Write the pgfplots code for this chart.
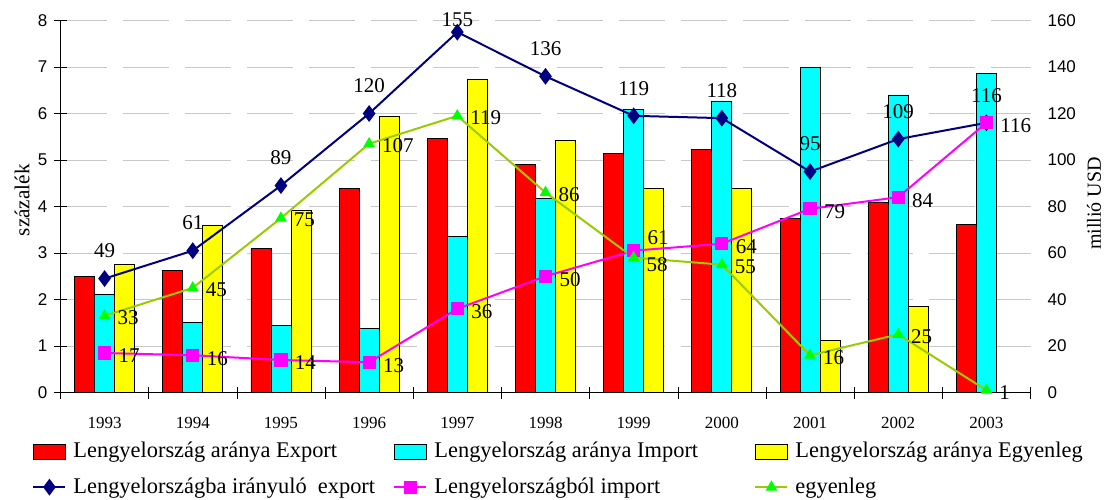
\documentclass[border=0pt]{standalone}
\usepackage{pgfplots}
\pgfplotsset{compat=1.18}
\usepackage{fontspec}
\setmainfont{Liberation Serif}
\newfontfamily\arial{Liberation Sans}
\definecolor{navyc}{HTML}{000080}
\definecolor{egyl}{HTML}{99CC00}
\definecolor{egym}{HTML}{00FF00}
\definecolor{gridc}{HTML}{C8C8C8}
\definecolor{cyanc}{HTML}{00FFFF}
\definecolor{magc}{HTML}{FF00FF}
\definecolor{redc}{HTML}{FF0000}
\definecolor{yelc}{HTML}{FFFF00}
\tikzset{dl/.style={font=\fontsize{10.5}{12}\selectfont,inner sep=1pt,text=black}}
\pgfplotsset{
  barleg/.style={legend image code/.code={\draw[##1] (0pt,-3.75pt) rectangle (16pt,3.75pt);}},
  lineleg/.style={legend image code/.code={\draw[mark repeat=2,mark phase=2,##1] plot coordinates {(0pt,0pt) (8pt,0pt) (16pt,0pt)};}},
  common/.style={width=485pt,height=186pt,scale only axis,xmin=-0.5,xmax=10.5,
    at={(0pt,0pt)},anchor=south west,
    /pgf/number format/assume math mode=true,
    yticklabel style={font=\arial\fontsize{8.5}{10}\selectfont},
    every axis y label/.style={rotate=90,anchor=center},
  },
}
\begin{document}
\begin{tikzpicture}
\useasboundingbox (-30.25pt,-53.25pt) rectangle (521.75pt,196.25pt);
\begin{axis}[common,
  ybar=0pt, bar width=10pt,
  ymin=0,ymax=8,ytick={0,...,8},
  axis y line*=left, axis x line*=bottom,
  xtick={-0.5,0.5,...,10.5}, x tick label as interval,
  xticklabels={1993,1994,1995,1996,1997,1998,1999,2000,2001,2002,2003},
  xticklabel style={font=\fontsize{8.5}{10}\selectfont,yshift=-6pt},
  tick align=center, major tick length=6pt,
  ymajorgrids, major grid style={gridc,line width=0.5pt,dash pattern=on 23pt off 8pt},
  ylabel={százalék},
  every axis y label/.append style={font=\fontsize{10.6}{12}\selectfont,at={(axis description cs:-0.0397,0.517)}},
  axis line style={black}, tick style={black},
]
\addplot[fill=redc,draw=black,line width=0.4pt] coordinates {(0,2.50) (1,2.62) (2,3.09) (3,4.38) (4,5.46) (5,4.90) (6,5.14) (7,5.23) (8,3.75) (9,4.09) (10,3.62)};
\addplot[fill=cyanc,draw=black,line width=0.4pt] coordinates {(0,2.10) (1,1.50) (2,1.44) (3,1.37) (4,3.35) (5,4.17) (6,6.09) (7,6.27) (8,7.00) (9,6.40) (10,6.87)};
\addplot[fill=yelc,draw=black,line width=0.4pt] coordinates {(0,2.76) (1,3.59) (2,3.91) (3,5.94) (4,6.73) (5,5.43) (6,4.39) (7,4.39) (8,1.12) (9,1.86)};
\end{axis}
\begin{axis}[common,
  ymin=0,ymax=160,ytick={0,20,...,160},
  axis y line*=right, axis x line=none,
  y axis line style={draw=none}, ytick style={draw=none},
  yticklabel style={xshift=5pt},
  ylabel={millió USD},
  every axis y label/.append style={font=\fontsize{10}{12}\selectfont,at={(axis description cs:1.0655,0.508)}},
  clip=false,
  legend columns=3, legend cell align=left,
  legend style={draw=none,fill=none,at={(-0.0355,-0.122)},anchor=north west,
    font=\fontsize{11.2}{13}\selectfont,row sep=8.5pt,
    nodes={inner sep=0pt},
    /tikz/every odd column/.append style={column sep=3.5pt},
    /tikz/every even column/.append style={column sep=2pt}},
  point meta=explicit symbolic, nodes near coords,
]
\addlegendimage{barleg,fill=redc,draw=black}
\addlegendentry{\makebox[158pt][l]{Lengyelország aránya Export}}
\addlegendimage{barleg,fill=cyanc,draw=black}
\addlegendentry{\makebox[158pt][l]{Lengyelország aránya Import}}
\addlegendimage{barleg,fill=yelc,draw=black}
\addlegendentry{\makebox[158pt][l]{Lengyelország aránya Egyenleg}}
\addplot[lineleg,navyc,line width=1pt,mark=diamond*,mark size=3.4pt,mark options={fill=navyc,draw=navyc},
  every node near coord/.append style={dl,anchor=south,yshift=8.75pt},
  coordinate style/.condition={y>150}{yshift=-7.5pt}]
  coordinates {(0,49)[49] (1,61)[61] (2,89)[89] (3,120)[120] (4,155)[155] (5,136)[136] (6,119)[119] (7,118)[118] (8,95)[95] (9,109)[109] (10,116)[116]};
\addlegendentry{\makebox[158pt][l]{Lengyelországba irányuló\ \ export}}
\addplot[lineleg,magc,line width=1pt,mark=square*,mark size=2.8pt,mark options={fill=magc,draw=magc},
  every node near coord/.append style={dl,anchor=west,xshift=5.5pt,yshift=-1.5pt},
  coordinate style/.condition={x==6}{yshift=8pt}]
  coordinates {(0,17)[17] (1,16)[16] (2,14)[14] (3,13)[13] (4,36)[36] (5,50)[50] (6,61)[61] (7,64)[64] (8,79)[79] (9,84)[84] (10,116)[116]};
\addlegendentry{\makebox[158pt][l]{Lengyelországból import}}
\addplot[lineleg,egyl,line width=1pt,mark=triangle*,mark size=2.4pt,mark options={fill=egym,draw=egym},
  every node near coord/.append style={dl,anchor=west,xshift=5pt,yshift=-1pt},
  coordinate style/.condition={x==6}{yshift=-2.5pt}]
  coordinates {(0,33)[33] (1,45)[45] (2,75)[75] (3,107)[107] (4,119)[119] (5,86)[86] (6,58)[58] (7,55)[55] (8,16)[16] (9,25)[25] (10,1)[1]};
\addlegendentry{\makebox[158pt][l]{egyenleg}}
\end{axis}
\end{tikzpicture}
\end{document}
